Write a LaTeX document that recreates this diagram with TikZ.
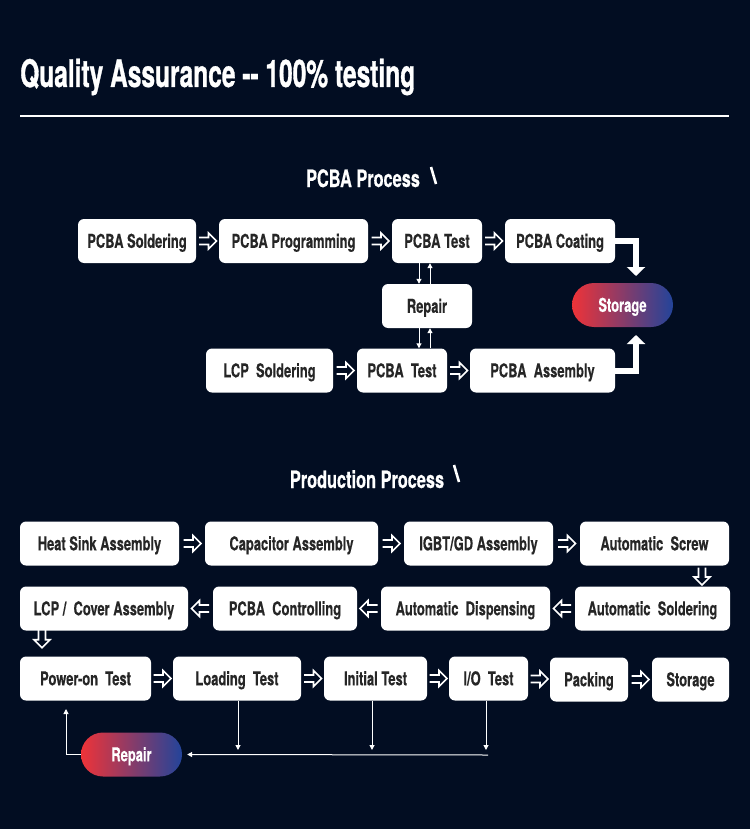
\documentclass[tikz,border=0pt]{standalone}
\usepackage{fontspec}
\setmainfont{TeX Gyre Heros}[FakeStretch=0.68, FakeBold=0.3]
\newfontfamily\titlefont{TeX Gyre Heros}[FakeStretch=0.645, FakeBold=0.8]
\newfontfamily\secfont{TeX Gyre Heros}[FakeStretch=0.68, FakeBold=0.5]
\usetikzlibrary{arrows.meta,calc}
\definecolor{bg}{HTML}{020D22}
\definecolor{boxtxt}{HTML}{262626}
\definecolor{pillred}{HTML}{EE3338}
\definecolor{pillblue}{HTML}{23449A}
\definecolor{deco}{HTML}{2A3A5A}
\begin{document}
\begin{tikzpicture}[x=1pt,y=-1pt,
  box/.style={fill=white, rounded corners=6pt, minimum height=44pt, inner sep=0pt, text height=13.6pt, text depth=0pt, text=boxtxt, font=\bfseries\fontsize{19}{20}\selectfont},
  pill/.style={rounded corners=22pt, minimum height=44pt, minimum width=101pt, inner sep=0pt, text height=13.6pt, text depth=0pt, left color=pillred, right color=pillblue, text=white, font=\bfseries\fontsize{19}{20}\selectfont},
  tarrow/.style={white, line width=1pt, -{Triangle[length=5pt,width=5pt]}},
  bigarrow/.style={white, line width=6pt, -{Triangle[length=9pt,width=18pt]}},
  harrow/.pic={\draw[white, line width=1.6pt, line join=miter] (-8.5,-3.5) -- (1,-3.5) -- (1,-8) -- (9,0) -- (1,8) -- (1,3.5) -- (-8.5,3.5);},
  sectitle/.style={anchor=base, inner sep=0pt, text=white, font=\secfont\bfseries\fontsize{24}{25}\selectfont}
]
% background
\fill[bg] (0,0) rectangle (750,829);
\useasboundingbox (0,0) rectangle (750,829);
% faint decoration
\begin{scope}[deco, opacity=0.35, line width=0.6pt]
  \foreach \r in {300,315,330,345,360,375}
    \draw (760,1000) ++(150:\r) arc (150:95:\r);
  \foreach \r in {420,435,450,465}
    \draw (-150,900) ++(80:\r) arc (80:20:\r);
\end{scope}

% title
\node[anchor=base west, inner sep=0pt, text=white, font=\titlefont\bfseries\fontsize{38}{39}\selectfont] (title) at (20,87) {Quality Assurance -{}- 100\% testing};
\draw[white, line width=2pt] (20,116) -- (729,116);

% ===== PCBA process =====
\node[sectitle] (sec1) at (363,187) {PCBA Process};
\draw[white, line width=2.6pt] (431,167) -- (436,184);

\node[box, minimum width=118pt] (ps)  at (137,241)   {PCBA Soldering};
\node[box, minimum width=149pt] (pp)  at (293.5,241) {PCBA Programming};
\node[box, minimum width=90pt]  (pt1) at (437,241)   {PCBA Test};
\node[box, minimum width=110pt] (pc)  at (560,241)   {PCBA Coating};
\node[box, minimum width=90pt]  (rp1) at (427,306)   {Repair};
\node[pill] (st1) at (622.5,305) {Storage};
\node[box, minimum width=127pt] (ls)  at (269.5,370.5) {LCP~ Soldering};
\node[box, minimum width=90pt]  (pt2) at (402,370.5)   {PCBA~ Test};
\node[box, minimum width=145pt] (pa)  at (542.5,370.5) {PCBA~ Assembly};

\pic at ($(ps.east)!0.5!(pp.west)$) {harrow};
\pic at ($(pp.east)!0.5!(pt1.west)$) {harrow};
\pic at ($(pt1.east)!0.5!(pc.west)$) {harrow};
\pic at ($(ls.east)!0.5!(pt2.west)$) {harrow};
\pic at ($(pt2.east)!0.5!(pa.west)$) {harrow};

\coordinate (xa) at (419,0);
\coordinate (xb) at (430,0);
\draw[tarrow] (pt1.south -| xa) -- (rp1.north -| xa);
\draw[tarrow] (rp1.north -| xb) -- (pt1.south -| xb);
\draw[tarrow] (rp1.south -| xa) -- (pt2.north -| xa);
\draw[tarrow] (pt2.north -| xb) -- (rp1.south -| xb);

\coordinate (s1) at (636,276);
\coordinate (s2) at (636,335);
\draw[bigarrow] (pc.east) -| (s1);
\draw[bigarrow] (pa.east) -| (s2);

% ===== Production process =====
\node[sectitle] (sec2) at (367,488) {Production Process};
\draw[white, line width=2.6pt] (454,465) -- (459,482);

\node[box, minimum width=159pt] (hs)  at (99.5,543.5)  {Heat Sink Assembly};
\node[box, minimum width=173pt] (ca)  at (291.5,543.5) {Capacitor Assembly};
\node[box, minimum width=149pt] (ig)  at (478.5,543.5) {IGBT/GD Assembly};
\node[box, minimum width=149pt] (as)  at (654.5,543.5) {Automatic~ Screw};
\node[box, minimum width=155pt] (aso) at (652.5,608.5) {Automatic~ Soldering};
\node[box, minimum width=169pt] (ad)  at (465.5,608.5) {Automatic~ Dispensing};
\node[box, minimum width=144pt] (pcc) at (285,608.5)   {PCBA~ Controlling};
\node[box, minimum width=168pt] (lcp) at (104,608.5)   {LCP /~ Cover Assembly};
\node[box, minimum width=131pt] (po)  at (85.5,678.5)  {Power-on~ Test};
\node[box, minimum width=128pt] (lt)  at (237,678.5)   {Loading~ Test};
\node[box, minimum width=103pt] (it)  at (375.5,678.5) {Initial Test};
\node[box, minimum width=79pt]  (io)  at (488.5,678.5) {I/O~ Test};
\node[box, minimum width=78pt]  (pk)  at (589,679.5)   {Packing};
\node[box, minimum width=77pt]  (st2) at (690.5,679.5) {Storage};
\node[pill] (rp2) at (131.5,754.5) {Repair};

\pic at ($(hs.east)!0.5!(ca.west)$) {harrow};
\pic at ($(ca.east)!0.5!(ig.west)$) {harrow};
\pic at ($(ig.east)!0.5!(as.west)$) {harrow};
\coordinate (xs) at (702,0);
\pic[rotate=-90] at ($(as.south -| xs)!0.5!(aso.north -| xs)$) {harrow};
\pic[rotate=180] at ($(aso.west)!0.5!(ad.east)$) {harrow};
\pic[rotate=180] at ($(ad.west)!0.5!(pcc.east)$) {harrow};
\pic[rotate=180] at ($(pcc.west)!0.5!(lcp.east)$) {harrow};
\coordinate (xl) at (42,0);
\pic[rotate=-90] at ($(lcp.south -| xl)+(0,8)$) {harrow};
\pic at ($(po.east)!0.5!(lt.west)$) {harrow};
\pic at ($(lt.east)!0.5!(it.west)$) {harrow};
\pic at ($(it.east)!0.5!(io.west)$) {harrow};
\pic at ($(io.east)!0.5!(pk.west)$) {harrow};
\pic at ($(pk.east)!0.5!(st2.west)$) {harrow};

\coordinate (d1) at (238,750);
\coordinate (d2) at (372,750);
\coordinate (d3) at (486,750);
\coordinate (h1) at (488,755);
\coordinate (up) at (66,709);
\draw[tarrow] (lt.south -| d1) -- (d1);
\draw[tarrow] (it.south -| d2) -- (d2);
\draw[tarrow] (io.south -| d3) -- (d3);
\draw[tarrow] (h1) -- ([xshift=5pt]rp2.east);
\draw[tarrow] (rp2.west) -| (up);
\end{tikzpicture}
\end{document}
